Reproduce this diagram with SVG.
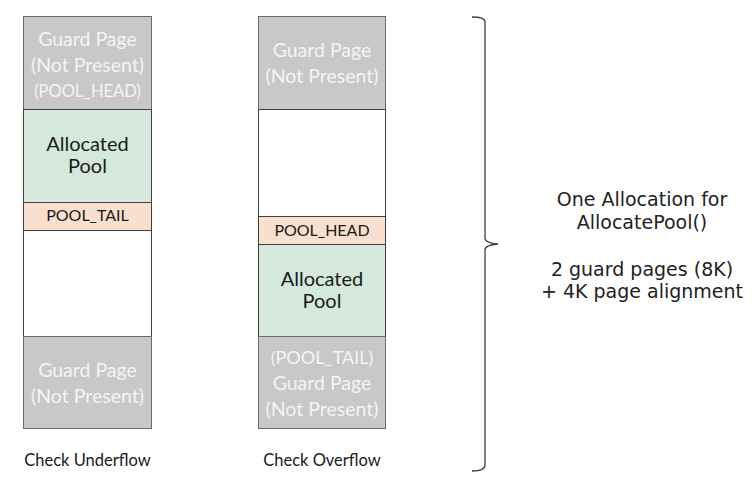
<svg xmlns="http://www.w3.org/2000/svg" width="752" height="485" viewBox="0 0 752 485">
<style>
.guard{fill:#c8c8c8;stroke:#6a6a6a;stroke-width:1}
.alloc{fill:#d5e8dc;stroke:#404040;stroke-width:1}
.hdr{fill:#f9dfcd;stroke:#404040;stroke-width:1}
.empty{fill:#ffffff;stroke:#404040;stroke-width:1}
.gt{font-family:Lato,"Open Sans",sans-serif;font-size:19.5px;fill:#f4f4f4;text-anchor:middle}
.at{font-family:Lato,"Open Sans",sans-serif;font-size:20px;fill:#1a1a1a;text-anchor:middle}
.ht{font-family:Lato,"Open Sans",sans-serif;font-size:16px;fill:#1a1a1a;text-anchor:middle}
.cap{font-family:Lato,"Open Sans",sans-serif;font-size:16.5px;fill:#1a1a1a;text-anchor:middle}
.rt{font-family:"DejaVu Sans",Verdana,sans-serif;font-size:19px;fill:#222;text-anchor:middle}
</style>
<rect width="752" height="485" fill="#ffffff"/>
<g id="underflow">
<rect class="guard" x="23.5" y="16.5" width="128" height="93"/>
<text class="gt" x="87.5" y="46">Guard Page</text>
<text class="gt" x="87.5" y="72">(Not Present)</text>
<text class="gt" x="87.5" y="97" style="font-size:16.5px">(POOL_HEAD)</text>
<rect class="alloc" x="23.5" y="109.5" width="128" height="93"/>
<text class="at" x="87.5" y="151">Allocated</text>
<text class="at" x="87.5" y="173">Pool</text>
<rect class="hdr" x="23.5" y="202.5" width="128" height="28"/>
<text class="ht" x="87.5" y="221">POOL_TAIL</text>
<rect class="empty" x="23.5" y="230.5" width="128" height="106"/>
<rect class="guard" x="23.5" y="336.5" width="128" height="92"/>
<text class="gt" x="87.5" y="377">Guard Page</text>
<text class="gt" x="87.5" y="403">(Not Present)</text>
<text class="cap" x="87.5" y="466">Check Underflow</text>
</g>
<g id="overflow">
<rect class="guard" x="258.5" y="16.5" width="127" height="93"/>
<text class="gt" x="322" y="57">Guard Page</text>
<text class="gt" x="322" y="83">(Not Present)</text>
<rect class="empty" x="258.5" y="109.5" width="127" height="107"/>
<rect class="hdr" x="258.5" y="216.5" width="127" height="28"/>
<text class="ht" x="322" y="236">POOL_HEAD</text>
<rect class="alloc" x="258.5" y="244.5" width="127" height="92"/>
<text class="at" x="322" y="286">Allocated</text>
<text class="at" x="322" y="308">Pool</text>
<rect class="guard" x="258.5" y="336.5" width="127" height="92"/>
<text class="gt" x="322" y="364" style="font-size:18px">(POOL_TAIL)</text>
<text class="gt" x="322" y="390">Guard Page</text>
<text class="gt" x="322" y="416">(Not Present)</text>
<text class="cap" x="322" y="466">Check Overflow</text>
</g>
<g id="connectors">
<path d="M472,17 Q485,17 485,22 L485,238 Q485,243 498,244 Q485,245 485,250 L485,465 Q485,471 472,471" fill="none" stroke="#404040" stroke-width="1.3"/>
</g>
<g id="note">
<text class="rt" x="642" y="206">One Allocation for</text>
<text class="rt" x="642" y="229">AllocatePool()</text>
<text class="rt" x="642" y="276">2 guard pages (8K)</text>
<text class="rt" x="642" y="298">+ 4K page alignment</text>
</g>
</svg>
